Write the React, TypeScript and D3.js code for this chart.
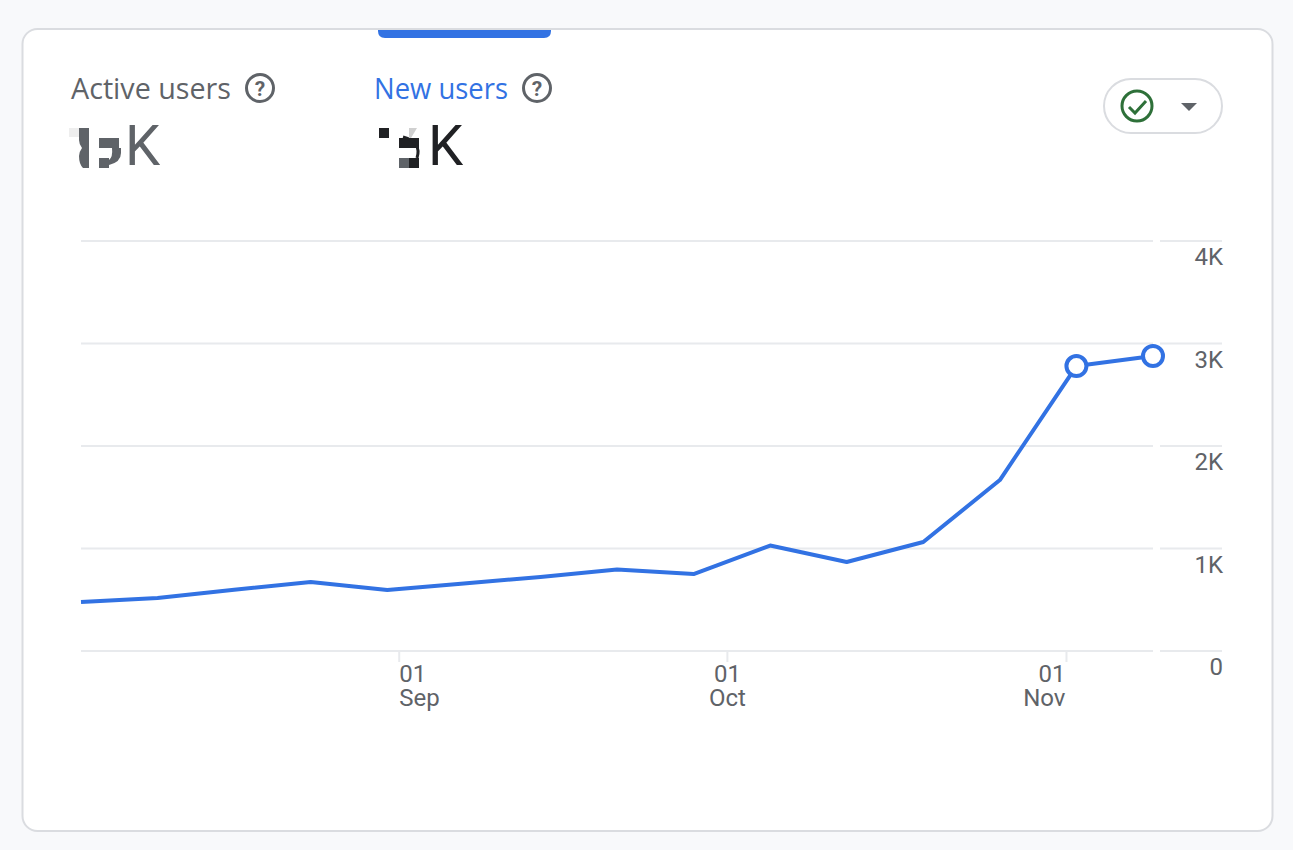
import React from "react";
import * as d3 from "d3";

const weekStarts = ["2023-08-03","2023-08-10","2023-08-17","2023-08-24","2023-08-31","2023-09-07","2023-09-14","2023-09-21","2023-09-28","2023-10-05","2023-10-12","2023-10-19","2023-10-26","2023-11-02","2023-11-09"];
const newUsers = [478, 517, 597, 674, 595, 658, 722, 795, 751, 1029, 868, 1063, 1668, 2780, 2878];
const yTicks = [0, 1000, 2000, 3000, 4000];
const yTickLabels = ["0", "1K", "2K", "3K", "4K"];
const xTicks = [["2023-09-01", "01", "Sep"], ["2023-10-01", "01", "Oct"], ["2023-11-01", "01", "Nov"]];
const highlighted = ["2023-11-02", "2023-11-09"];

const FONT = "Roboto, sans-serif";
const HEAD = "'Open Sans', Roboto, sans-serif";
const BLUE = "#3272e3";
const GREY = "#5f6368";
const GRID = "#e8eaed";

const parse = (s: string) => new Date(s + "T00:00:00Z");

function Help({ cx, cy }: { cx: number; cy: number }) {
  return (
    <g>
      <circle cx={cx} cy={cy} r={13.5} fill="none" stroke={GREY} strokeWidth={3} />
      <text x={cx} y={cy + 7.5} textAnchor="middle" fontFamily={FONT} fontSize={21} fontWeight={700} fill={GREY}>?</text>
    </g>
  );
}

export default function App() {
  const x = d3.scaleUtc().domain([parse(weekStarts[0]), parse(weekStarts[weekStarts.length - 1])]).range([81, 1153]);
  const y = d3.scaleLinear().domain([0, 4000]).range([651, 241]);
  const line = d3.line<number>().x((_, i) => x(parse(weekStarts[i]))).y((d) => y(d));

  return (
    <svg width={1293} height={850} style={{ position: "absolute", left: 0, top: 0, display: "block" }}>
      <rect width={1293} height={850} fill="#f8f9fb" />
      <rect x={22.5} y={29} width={1250} height={802} rx={15} fill="#fff" stroke="#dadce0" strokeWidth={2} />
      <path d="M378 30H551V31Q551 38 544 38H385Q378 38 378 31Z" fill={BLUE} />

      <text x={71} y={99} fontFamily={HEAD} fontSize={28.5} fontWeight={500} fill={GREY} textLength={160} lengthAdjust="spacingAndGlyphs">Active users</text>
      <Help cx={260} cy={88} />
      <text x={374} y={99} fontFamily={HEAD} fontSize={28.5} fontWeight={500} fill={BLUE} textLength={134} lengthAdjust="spacingAndGlyphs">New users</text>
      <Help cx={537} cy={88} />

      <rect x={69} y={128} width={10} height={9} fill="#eeeeee" />
      <g fill={GREY}>
        <path d="M79 128H89V168H83Q79 164 79 156Q79 152 82 148Q79 144 79 140Z" />
        <rect x={99} y={138} width={20} height={10} />
        <rect x={99} y={158} width={10} height={10} />
        <path d="M112 148H121V153Q121 162 109 165V160Q113 157 112 148Z" />
      </g>
      <text x={125} y={165} fontFamily={FONT} fontSize={56} fill={GREY}>K</text>
      <g fill="#202124">
        <rect x={379} y={128} width={10} height={10} />
        <rect x={399} y={138} width={20} height={10} />
        <rect x={409} y={158} width={10} height={10} />
      </g>
      <path d="M403 137Q422 142 417 158" fill="none" stroke="#202124" strokeWidth={3} />
      <rect x={399} y={158} width={10} height={10} fill="#5f6368" />
      <path d="M409 128H417L411 138H409Z" fill="#d0d0d0" />
      <text x={428} y={165} fontFamily={FONT} fontSize={56} fill="#202124">K</text>

      <rect x={1104} y={79} width={118} height={54} rx={27} fill="#fff" stroke="#dadce0" strokeWidth={2} />
      <circle cx={1137} cy={106} r={15} fill="none" stroke="#2e7039" strokeWidth={3} />
      <path d="M1129 107L1135 113L1146 101" fill="none" stroke="#2e7039" strokeWidth={3} />
      <path d="M1181 103H1197L1189 111Z" fill={GREY} />

      {yTicks.map((t, i) => (
        <g key={t}>
          <line x1={81} x2={1153} y1={y(t)} y2={y(t)} stroke={GRID} strokeWidth={2} />
          <line x1={1160} x2={1222} y1={y(t)} y2={y(t)} stroke={GRID} strokeWidth={2} />
          <text x={1223} y={y(t) + 24} textAnchor="end" fontFamily={FONT} fontSize={24} fill={GREY}>{yTickLabels[i]}</text>
        </g>
      ))}

      {xTicks.map(([d, a, b]) => {
        const px = x(parse(d)) + 1;
        const nov = b === "Nov";
        const anchor = nov ? "end" : b === "Oct" ? "middle" : "start";
        return (
          <g key={d}>
            <line x1={px} x2={px} y1={651} y2={662} stroke={GRID} strokeWidth={2} />
            <text textAnchor={anchor} fontFamily={FONT} fontSize={24} fill={GREY}>
              <tspan x={nov ? px - 1 : px} y={682}>{a}</tspan>
              <tspan x={nov ? px - 1 : px} y={706}>{b}</tspan>
            </text>
          </g>
        );
      })}

      <path d={line(newUsers) ?? ""} fill="none" stroke={BLUE} strokeWidth={4} strokeLinejoin="round" />
      {highlighted.map((d) => {
        const i = weekStarts.indexOf(d);
        return <circle key={d} cx={x(parse(d))} cy={y(newUsers[i])} r={10} fill="#fff" stroke={BLUE} strokeWidth={4} />;
      })}
    </svg>
  );
}
